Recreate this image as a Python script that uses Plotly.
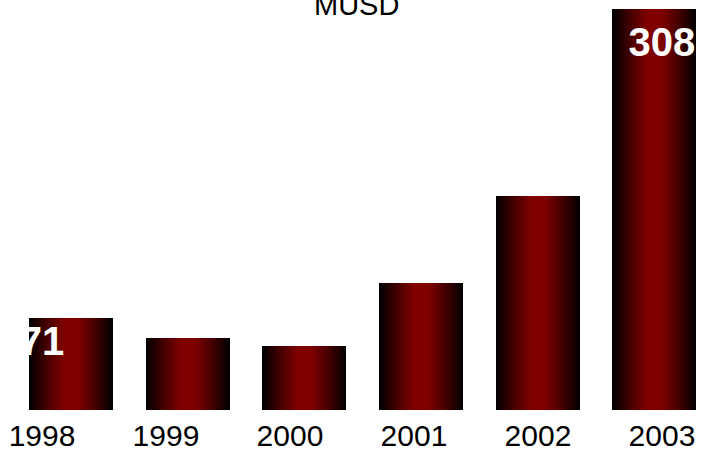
import plotly.graph_objects as go

# Annual totals in millions of USD
years = ["1998", "1999", "2000", "2001", "2002", "2003"]
values = [71, 55.5, 49, 97.5, 164, 308]
value_labels = ["71", "", "", "", "", "308"]

FONT = "Liberation Sans, Arial, sans-serif"
BAR_WIDTH = 0.72
N_LAYERS = 24
CENTER_RGB = (128, 0, 0)

fig = go.Figure()

# Horizontal black -> dark red -> black shading, built from overlaid bars of
# decreasing width (outermost layer black, innermost layer full red).
for k in range(N_LAYERS):
    t = k / (N_LAYERS - 1)          # 0 at the edge, 1 at the centre
    f = min(1.0, t / 0.85) ** 0.9
    r, g, b = (int(round(c * f)) for c in CENTER_RGB)
    fig.add_trace(go.Bar(
        x=years, y=values,
        width=BAR_WIDTH * (1 - k / N_LAYERS),
        marker=dict(color=f"rgb({r},{g},{b})", line=dict(width=0)),
        hoverinfo="skip", showlegend=False,
        xaxis="x", yaxis="y",
    ))

# Value labels and year ticks live on their own overlaid axes
fig.add_trace(go.Scatter(
    x=years, y=values, text=value_labels, mode="text",
    textposition="middle center",
    textfont=dict(family=FONT, size=40, color="white", weight="bold"),
    cliponaxis=False, hoverinfo="skip", showlegend=False,
    xaxis="x2", yaxis="y2",
))

fig.add_annotation(
    text="MUSD", xref="paper", yref="paper", x=356 / 703, y=1,
    xanchor="center", yanchor="middle", yshift=-5, showarrow=False,
    font=dict(family=FONT, size=29, color="black"),
)

fig.update_layout(
    width=703, height=452,
    margin=dict(l=0, r=0, t=0, b=42),
    paper_bgcolor="white", plot_bgcolor="white",
    barmode="overlay", bargap=0,
    xaxis=dict(type="category", range=[-0.608, 5.416], showticklabels=False,
               showgrid=False, zeroline=False, showline=False, ticks=""),
    yaxis=dict(range=[0, 314.9], visible=False, showgrid=False, zeroline=False),
    xaxis2=dict(type="category", overlaying="x", side="bottom",
                range=[-0.3387, 5.331], showgrid=False, zeroline=False,
                showline=False, ticks="", ticklabelstandoff=5,
                tickfont=dict(family=FONT, size=30, color="black")),
    yaxis2=dict(overlaying="y", range=[19.4, 344.9], visible=False,
                showgrid=False, zeroline=False),
)

fig.write_html("out.html")
